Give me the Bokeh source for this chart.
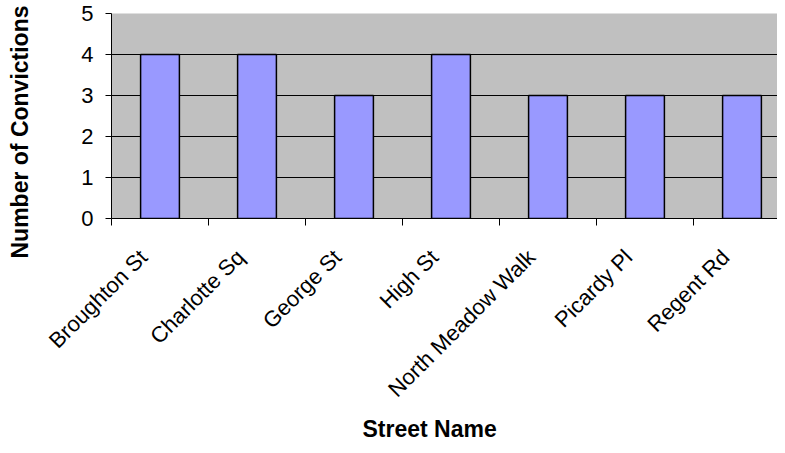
import math
from bokeh.plotting import figure
from bokeh.models import Range1d, FixedTicker, Grid, ColumnDataSource, LinearAxis, Title
from bokeh.embed import file_html
from bokeh.resources import INLINE

streets = ["Broughton St", "Charlotte Sq", "George St", "High St",
           "North Meadow Walk", "Picardy Pl", "Regent Rd"]
convictions = [4, 4, 3, 4, 3, 3, 3]
y_ticks = [0, 1, 2, 3, 4, 5]
x_title = "Street Name"
y_title = "Number of Convictions"

positions = [i + 0.5 for i in range(len(streets))]
boundaries = list(range(len(streets) + 1))
label_pos = [x - 0.17 for x in positions]
src = ColumnDataSource(dict(x=positions, top=convictions, name=streets))

FONT = "Liberation Sans"

p = figure(width=777, height=445,
           x_range=Range1d(0, 6.866), y_range=Range1d(0, 5),
           output_backend="svg", toolbar_location=None,
           min_border_left=111, min_border_right=0,
           min_border_top=13, min_border_bottom=227)

p.background_fill_color = "#C0C0C0"
p.border_fill_color = "white"
p.outline_line_color = None

p.vbar(x="x", top="top", width=0.4, bottom=0, source=src,
       fill_color="#9999FF", line_color="black", line_width=1.5)

# grid
p.xgrid.visible = False
p.ygrid.ticker = FixedTicker(ticks=y_ticks[1:-1])
p.ygrid.grid_line_color = "black"
p.ygrid.grid_line_width = 1
top_grid = Grid(dimension=1, ticker=FixedTicker(ticks=[y_ticks[-1]]),
                grid_line_color="#808080", grid_line_width=1.5)
p.add_layout(top_grid)

# y axis
ya = p.yaxis[0]
ya.ticker = FixedTicker(ticks=y_ticks)
ya.axis_line_color = "black"
ya.major_tick_out = 6
ya.major_tick_in = 0
ya.minor_tick_line_color = None
ya.major_label_standoff = 12
ya.major_label_text_font = FONT
ya.major_label_text_font_size = "22px"
ya.major_label_text_color = "black"

# x axis
xa = p.xaxis[0]
xa.ticker = FixedTicker(ticks=label_pos, minor_ticks=boundaries)
xa.major_label_overrides = {pos: name for pos, name in zip(label_pos, streets)}
xa.major_tick_line_color = None
xa.major_tick_out = 0
xa.minor_tick_line_color = "black"
xa.minor_tick_out = 7
xa.minor_tick_in = 0
xa.axis_line_color = "black"
xa.major_label_orientation = math.pi / 4
xa.major_label_standoff = 28
xa.major_label_text_font = FONT
xa.major_label_text_font_size = "22px"
xa.major_label_text_color = "black"

# invisible spacer axis between the y tick labels and the y title
mid = (y_ticks[0] + y_ticks[-1]) / 2
spacer = LinearAxis(ticker=FixedTicker(ticks=[mid]), axis_line_color=None,
                    major_tick_line_color=None, minor_tick_line_color=None,
                    major_tick_out=46, major_tick_in=0,
                    minor_tick_out=0, minor_tick_in=0, major_label_standoff=0,
                    major_label_overrides={mid: ""},
                    major_label_text_font_size="1px")
p.add_layout(spacer, "left")

ytitle = Title(text=y_title, align="left", offset=-40, standoff=0,
               vertical_align="bottom",
               text_font=FONT, text_font_size="23px", text_font_style="bold",
               text_color="black")
p.add_layout(ytitle, "left")

xtitle = Title(text=x_title, align="left", offset=251, standoff=0,
               vertical_align="bottom",
               text_font=FONT, text_font_size="23px", text_font_style="bold",
               text_color="black")
p.add_layout(xtitle, "below")

open("out.html", "w").write(file_html(p, INLINE))
